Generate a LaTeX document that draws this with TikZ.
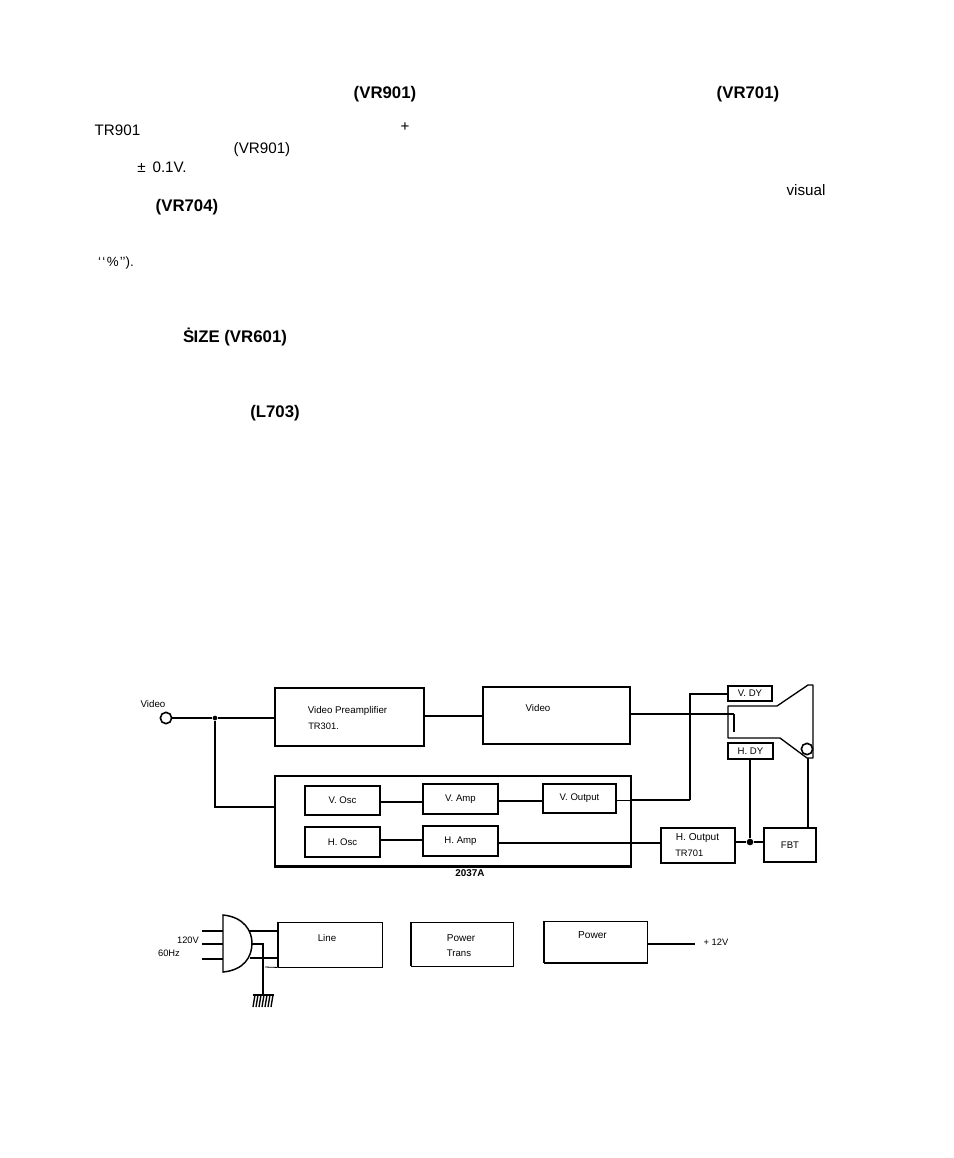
\documentclass[tikz,border=0pt]{standalone}
\usepackage{fontspec}
\setmainfont{Liberation Sans}
\newcommand{\fs}[1]{\fontsize{#1}{#1}\selectfont}
\tikzset{
  x=0.75pt,y=-0.75pt,
  blockbox/.style={draw,line width=1pt,inner sep=0pt,fill=white,font=\fs{7.2}},
  lbl/.style={inner sep=0pt,font=\fs{7.3}},
  small/.style={inner sep=0pt,font=\fs{7}},
  body/.style={inner sep=0pt,font=\fs{11.4}},
  bodyb/.style={inner sep=0pt,font=\fs{12.6}\bfseries},
  wire/.style={line width=0.8pt},
  heavy/.style={line width=1.4pt},
  dotj/.style={circle,fill=black,inner sep=0pt,minimum size=5pt},
}
\newcommand{\blk}[7][]{\node[blockbox,minimum width=(#5-#3)*0.75pt,minimum height=(#6-#4)*0.75pt,#1] (#2) at ({(#3+#5)/2},{(#4+#6)/2}) {#7};}
\begin{document}
\begin{tikzpicture}
\useasboundingbox (0,0) rectangle (954,1158);
% body text fragments
\node[bodyb] (t1) at (385,94) {(VR901)};
\node[bodyb] (t2) at (748,94) {(VR701)};
\node[body] (t3) at (117.5,130) {TR901};
\node[body] (t4) at (405,127) {+};
\node[body] (t5) at (262,150) {(VR901)};
\node[body] (t6) at (162,167) {±\hspace{2pt} 0.1V.};
\node[body] (t7) at (806,190) {visual};
\node[bodyb] (t8) at (187,207) {(VR704)};
\node[body,font=\fs{10}] (t9) at (116,263) {‘\hspace{1pt}‘\hspace{1pt}\%\hspace{1pt}’’).};
\node[bodyb] (t10) at (235,337) {Ṡ\kern-0.5pt IZE (VR601)};
\node[bodyb] (t11) at (275,413) {(L703)};
% blocks
\blk[line width=0.8pt]{big}{275}{776}{631}{866}{}
\blk{pre}{275}{688}{424}{746}{}
\blk[line width=0.9pt]{vid}{483}{687}{630}{744}{}
\blk{vosc}{305}{786}{380}{815}{V. Osc}
\blk{vamp}{423}{784}{498}{814}{V. Amp}
\blk{vout}{543}{784}{616}{813}{V. Output}
\blk{hosc}{305}{827}{380}{857}{H. Osc}
\blk{hamp}{423}{826}{498}{856}{H. Amp}
\blk[line width=0.9pt]{hout}{661}{828}{735}{863}{}
\blk[line width=0.9pt]{fbt}{764}{828}{816}{862}{FBT}
\blk{hdy}{728}{743}{773}{759}{H. DY}
\blk{vdy}{728}{686}{772}{701}{V. DY}
\blk[line width=0.65pt]{line}{278}{922}{382}{967}{}
\blk[line width=0.65pt]{trans}{411}{922}{513}{966}{}
\blk[line width=0.65pt]{pwr}{544}{921}{647}{963}{}
\draw[line width=1.7pt] (big.south west) -- (big.south east);
\draw[line width=1.3pt] (line.north west) -- (line.south west);
\draw[line width=1.1pt] (trans.north west) -- (trans.south west);
\draw[line width=1.1pt] (trans.south west) -- (trans.south east);
\draw[line width=1.1pt] (pwr.north west) -- (pwr.south west);
\draw[line width=1.5pt] (pwr.south west) -- (pwr.south east);
% box labels
\node[lbl] (tp1) at (347.5,711) {Video Preamplifier};
\node[lbl,anchor=west,font=\fs{7}] (tp2) at (308,726) {TR301.};
\node[lbl] (tv) at (538,708) {Video};
\node[small,font=\fs{7.6}] (to1) at (697.5,838) {H. Output};
\node[small,anchor=west] (to2) at (675,853) {TR701};
\node[small,font=\fs{7.4}\bfseries] (tn) at (470,873) {2037A};
\node[lbl] (tl) at (327,938) {Line};
\node[lbl,font=\fs{7.5}] (tt1) at (461,938) {Power};
\node[small,font=\fs{7.2}] (tt2) at (459,953) {Trans};
\node[small,font=\fs{7.6}] (tw) at (592.5,935) {Power};
\node[small] (tvolt) at (716,942) {+ 12V};
\node[small] (t120) at (188,940) {120V};
\node[small] (t60) at (169,953) {60Hz};
\node[lbl] (tvin) at (153,704) {Video};
% input
\node[draw,circle,line width=1.2pt,inner sep=0pt,minimum size=8.5pt] (vin) at (166,718) {};
\node[dotj,minimum size=3.5pt] (j1) at (215,718) {};
\draw[wire] (vin.east) -- (j1);
\draw[heavy] (j1) -- (j1 -| pre.west);
\coordinate (cb) at (215,807);
\draw[wire] (j1) -- (cb) -- (cb -| big.west);
\coordinate (c1) at (424,716);
\draw[wire] (c1) -- (c1 -| vid.west);
\draw[wire] (vosc.east |- 0,802) -- (vamp.west |- 0,802);
\draw[wire] (vamp.east |- 0,801) -- (vout.west |- 0,801);
\draw[wire] (hosc.east |- 0,840) -- (hamp.west |- 0,840);
\draw[heavy] (hamp.east |- 0,843) -- (hout.west |- 0,843);
% V output to V DY
\coordinate (vc1) at (690,800);
\coordinate (vc2) at (690,694);
\draw[line width=0.4pt] (vout.east |- vc1) -- (631,800);
\draw[wire] (631,800) -- (vc1);
\draw[line width=1.1pt] (vc1) -- (vc2) -- (vc2 -| vdy.west);
% CRT
\coordinate (g1) at (734,714);
\coordinate (g2) at (734,732);
\draw[line width=1pt,line join=round] (728,706) -- (777,706) -- (808,685) -- (813,685) -- (813,758) -- (807,758) -- (780,738) -- (728,738) -- cycle;
\draw[wire] (vid.east |- g1) -- (g1);
\draw[line width=1.8pt] (g1) -- (g2);
\node[draw,circle,line width=1.2pt,inner sep=0pt,minimum size=8.5pt] (gun) at (807,749) {};
% H output, FBT
\node[dotj] (j2) at (750,842) {};
\draw[heavy] (hout.east |- j2) -- (j2);
\draw[heavy] (j2) -- (j2 -| fbt.west);
\draw[line width=1.1pt] (j2) -- (j2 |- hdy.south);
\coordinate (c808) at (808,758);
\draw[wire] (c808) -- (c808 |- fbt.north);
% mains plug
\coordinate (pt) at (223,915);
\coordinate (pb) at (223,972);
\draw[line width=1.1pt] (pt) .. controls (244,917) and (252,931) .. (252,943) .. controls (252,957) and (244,970) .. (pb) -- cycle;
\coordinate (p1) at (202,931);
\coordinate (p2) at (202,944);
\coordinate (p3) at (202,959);
\draw[wire] (p1) -- (223,931);
\draw[wire] (p2) -- (223,944);
\draw[heavy] (p3) -- (223,959);
\draw[wire] (249,931) -- (249,931 -| line.west);
\draw[wire] (250,958) -- (250,958 -| line.west);
\coordinate (g) at (263,995);
\draw[heavy] (252,944) -- (263,944) -- (263,985);
\draw[wire] (263,985) -- (g);
\draw[line width=0.6pt] (265,967) -- (line.south west);
\draw[line width=1pt] (253,995) -- (274,995);
\foreach \i in {0,...,6} \draw[line width=1pt] ({255+\i*3},995) -- ({253+\i*3},1007);
\draw[heavy] (pwr.east |- 0,944) -- (695,944);
\end{tikzpicture}
\end{document}
